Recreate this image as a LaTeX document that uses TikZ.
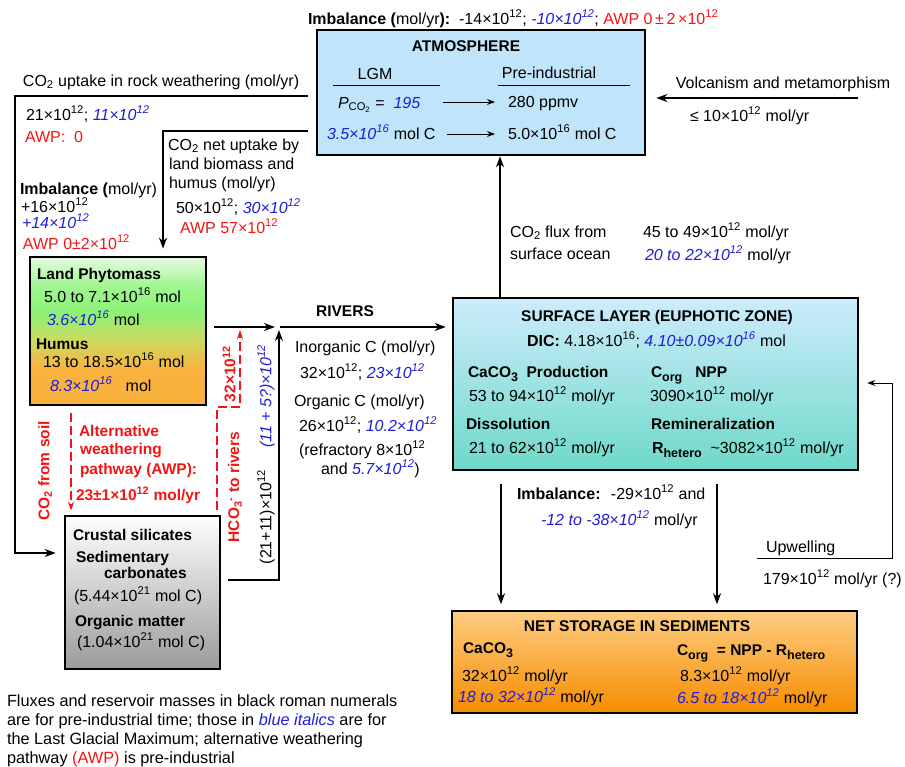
\documentclass[tikz,border=0pt]{standalone}
\usepackage{fontspec}
\setmainfont{Liberation Sans}
\usetikzlibrary{arrows.meta}
\definecolor{myblue}{RGB}{30,30,215}
\definecolor{myred}{RGB}{245,20,20}
\definecolor{atmblue}{RGB}{192,228,250}
\definecolor{surftop}{RGB}{205,236,252}
\definecolor{surfmid}{RGB}{160,226,232}
\definecolor{surfbot}{RGB}{110,217,200}
\definecolor{sedtop}{RGB}{253,205,130}
\definecolor{sedmid}{RGB}{250,160,40}
\definecolor{sedbot}{RGB}{246,140,0}
\definecolor{crustgray}{RGB}{155,155,155}
\definecolor{lorange}{RGB}{250,178,62}
\definecolor{lyg}{RGB}{205,218,95}
\definecolor{lgreen}{RGB}{140,242,118}
\definecolor{lgreen2}{RGB}{160,246,145}
\definecolor{lwhite}{RGB}{230,250,225}
\pgfdeclareverticalshading{landsh}{100bp}{color(0bp)=(lorange); color(25bp)=(lorange); color(37bp)=(lorange); color(47bp)=(lyg); color(56bp)=(lgreen); color(65bp)=(lgreen2); color(75bp)=(lwhite); color(100bp)=(lwhite)}
\newcommand\bodyfont{\fontsize{16}{19}\selectfont}
\newcommand\hdfont{\fontsize{15.5}{18}\selectfont\bfseries}
\newcommand\footfont{\fontsize{16.3}{19}\selectfont}
\newcommand\blu[1]{{\color{myblue}\itshape #1}}
\newcommand\rd[1]{{\color{myred}#1}}
\newcommand\tenx[1]{×10\textsuperscript{#1}}
\newcommand\subx[1]{\raisebox{-0.3em}{\fontsize{12.5}{12}\selectfont #1}}
\tikzset{
  lbl/.style={anchor=base west, inner sep=0pt, outer sep=0pt},
  ctr/.style={anchor=base, inner sep=0pt, outer sep=0pt},
  bx/.style={draw, line width=2.6pt, inner sep=0pt},
  flow/.style={line width=2pt, -{Stealth[length=11pt,width=8pt]}},
  thinflow/.style={line width=1pt, -{Stealth[length=8pt,width=6pt]}},
  rflow/.style={draw=myred, line width=2pt, dash pattern=on 9pt off 4pt, -{Stealth[length=9pt,width=6pt]}},
  rot/.style={rotate=90, inner sep=0pt}
}
\begin{document}
\begin{tikzpicture}[x=1pt,y=-1pt, every node/.style={font=\bodyfont}]
\useasboundingbox (0,0) rectangle (905,766);

% ---------- boxes ----------
\node[bx, fill=atmblue, minimum width=328, minimum height=125] (atm) at (481,92.5) {};
\node[bx, shade, shading=landsh, minimum width=176, minimum height=148] (land) at (118,331) {};
\node[bx, top color=surftop, middle color=surfmid, bottom color=surfbot, minimum width=405, minimum height=172] (surf) at (655.5,384) {};
\node[draw, line width=1.5pt, top color=sedtop, middle color=sedmid, bottom color=sedbot, minimum width=405, minimum height=102, inner sep=0pt] (sed) at (654.5,662) {};
\node[bx, top color=white, bottom color=crustgray, minimum width=155, minimum height=153] (crust) at (142.5,592.5) {};

% ---------- top imbalance ----------
\node[lbl] (imbtop) at (308,24) {\textbf{Imbalance (}mol/yr\textbf{):}~~-14\tenx{12};~\blu{-10\tenx{12}};~\rd{AWP 0\,±\,2\,\tenx{12}}};

% ---------- atmosphere ----------
\node[ctr, font=\hdfont] (atmt) at (466,51) {ATMOSPHERE};
\node[ctr] (lgm) at (375,79) {LGM};
\node[ctr] (prei) at (549,78) {Pre-industrial};
\draw[line width=1pt] (333,85) -- (440,85);
\draw[line width=1pt] (498,85) -- (630,85);
\node[lbl] (pco) at (338,108) {\textit{P}\textsubscript{CO\textsubscript{2}} = ~\blu{195}};
\node[lbl] (ppm) at (508,107) {280 ppmv};
\node[lbl] (lgmc) at (327,139) {\blu{3.5\tenx{16}} mol C};
\node[lbl] (pic) at (508,139) {5.0\tenx{16} mol C};
\coordinate (a1s) at (443,102); \coordinate (a1e) at (495,102);
\coordinate (a2s) at (447,134); \coordinate (a2e) at (495,134);
\draw[thinflow] (a1s) -- (a1e);
\draw[thinflow] (a2s) -- (a2e);

% ---------- volcanism ----------
\node[ctr] (volt) at (783,88) {Volcanism and metamorphism};
\node[lbl] (volv) at (690,121) {≤ 10\tenx{12} mol/yr};
\coordinate (volc) at (858,98);
\draw[flow, shorten >=10pt] (volc) -- (atm.east |- volc);

% ---------- rock weathering ----------
\node[lbl] (rwt) at (23,86) {CO\textsubscript{2} uptake in rock weathering (mol/yr)};
\node[lbl] (rwv) at (26,120) {21\tenx{12}; \blu{11\tenx{12}}};
\node[lbl] (rwa) at (25,142) {\rd{AWP:~ 0}};
\coordinate (rw1) at (308,96);
\coordinate (rw2) at (15,96);
\coordinate (rw3) at (15,553);
\draw[flow, shorten >=8pt] (rw1) -- (rw2) -- (rw3) -- (crust.west |- rw3);

% ---------- land uptake ----------
\node[lbl] (lut1) at (168,150) {CO\textsubscript{2} net uptake by};
\node[lbl] (lut2) at (169,169) {land biomass and};
\node[lbl] (lut3) at (169,188) {humus (mol/yr)};
\node[lbl] (luv) at (176,213) {50\tenx{12}; \blu{30\tenx{12}}};
\node[lbl] (lua) at (180,233) {\rd{AWP 57\tenx{12}}};
\coordinate (lu1) at (308,131);
\coordinate (lu2) at (163,131);
\draw[flow, shorten >=7pt] (lu1) -- (lu2) -- (land.north -| lu2);

% ---------- left imbalance ----------
\node[lbl] (imbl) at (20,194) {\textbf{Imbalance (}mol/yr)};
\node[lbl] (imb1) at (21,212) {+16\tenx{12}};
\node[lbl] (imb2) at (22,228) {\blu{+14\tenx{12}}};
\node[lbl] (imb3) at (23,249) {\rd{AWP 0±2\tenx{12}}};

% ---------- land box text ----------
\node[lbl, font=\hdfont] (lph) at (37,279) {Land Phytomass};
\node[lbl] (lp1) at (44,302) {5.0 to 7.1\tenx{16} mol};
\node[lbl] (lp2) at (47,325) {\blu{3.6\tenx{16}} mol};
\node[lbl, font=\hdfont] (hum) at (36,349) {Humus};
\node[lbl] (hu1) at (43,367) {13 to 18.5\tenx{16} mol};
\node[lbl] (hu2) at (50,391) {\blu{8.3\tenx{16}}~~ mol};

% ---------- rivers ----------
\node[ctr, font=\hdfont] (rivt) at (345,316) {RIVERS};
\node[lbl] (riv1) at (295,352) {Inorganic C (mol/yr)};
\node[lbl] (riv2) at (300,378) {32\tenx{12}; \blu{23\tenx{12}}};
\node[lbl] (riv3) at (294,406) {Organic C (mol/yr)};
\node[lbl] (riv4) at (299,431) {26\tenx{12}; \blu{10.2\tenx{12}}};
\node[lbl] (riv5) at (299,455) {(refractory 8\tenx{12}};
\node[lbl] (riv6) at (321,474) {and \blu{5.7\tenx{12}})};
\coordinate (rvA) at (275,327);
\draw[flow, shorten <=7pt] (land.east |- rvA) -- (rvA);
\coordinate (cr1) at (228,580);
\coordinate (cr2) at (279,580);
\coordinate (cr3) at (279,330);
\draw[flow] (cr1) -- (cr2) -- (cr3);
\coordinate (rvB) at (280,327);
\draw[flow, shorten >=6pt] (rvB) -- (surf.west |- rvB);

% ---------- rotated labels ----------
\node[rot, font=\hdfont, text=myred] (soil) at (45,471) {CO\textsubscript{2} from soil};
\node[rot, font=\hdfont, text=myred] (hco) at (235,487) {HCO\textsubscript{3}\textsuperscript{-} to rivers};
\node[rot, font=\hdfont, text=myred] (r32) at (229,374) {32\tenx{12}};
\node[rot] (b11) at (266,396) {\blu{(11 + 5?)\tenx{12}}};
\node[rot] (b21) at (266,517) {(21+11)\tenx{12}};

% ---------- AWP ----------
\node[lbl, font=\hdfont, text=myred] (awp1) at (79,436) {Alternative};
\node[lbl, font=\hdfont, text=myred] (awp2) at (80,454) {weathering};
\node[lbl, font=\hdfont, text=myred] (awp3) at (80,474) {pathway (AWP):};
\node[lbl, font=\hdfont, text=myred] (awp4) at (76,500) {23±1\tenx{12} mol/yr};
\coordinate (sx) at (71,0);
\draw[rflow, shorten <=7pt, shorten >=4pt] (land.south -| sx) -- (crust.north -| sx);
\coordinate (hc1) at (217,510);
\coordinate (hc2) at (217,407);
\coordinate (hc3) at (240,407);
\coordinate (hc4) at (240,330);
\draw[rflow] (hc1) -- (hc2) -- (hc3) -- (hc4);

% ---------- surface layer ----------
\node[ctr, font=\hdfont] (surft) at (657,321) {SURFACE LAYER (EUPHOTIC ZONE)};
\node[lbl] (dic) at (527,346) {\textbf{DIC:} 4.18\tenx{16}; \blu{4.10±0.09\tenx{16}} mol};
\node[lbl, font=\hdfont] (cac) at (468,377) {CaCO\subx{3}~ Production};
\node[lbl] (cac1) at (469,401) {53 to 94\tenx{12} mol/yr};
\node[lbl, font=\hdfont] (dis) at (466,429) {Dissolution};
\node[lbl] (dis1) at (469,453) {21 to 62\tenx{12} mol/yr};
\node[lbl, font=\hdfont] (corg) at (651,377) {C\subx{org}~~ NPP};
\node[lbl] (npp) at (650,401) {3090\tenx{12} mol/yr};
\node[lbl, font=\hdfont] (rem) at (651,429) {Remineralization};
\node[lbl] (rh) at (652,453) {\textbf{R\subx{hetero}}~ \textasciitilde3082\tenx{12} mol/yr};

% ---------- CO2 flux ----------
\coordinate (fx) at (500,0);
\draw[flow] (surf.north -| fx) -- (atm.south -| fx);
\node[lbl] (fl1) at (510,237) {CO\textsubscript{2} flux from};
\node[lbl] (fl2) at (510,259) {surface ocean};
\node[lbl] (fl3) at (643,237) {45 to 49\tenx{12} mol/yr};
\node[lbl] (fl4) at (645,260) {\blu{20 to 22\tenx{12}} mol/yr};

% ---------- down arrows ----------
\coordinate (d1) at (501,0);
\coordinate (d2) at (717,0);
\draw[flow, shorten <=13pt, shorten >=6pt] (surf.south -| d1) -- (sed.north -| d1);
\draw[flow, shorten <=13pt, shorten >=6pt] (surf.south -| d2) -- (sed.north -| d2);
\node[lbl] (imbd1) at (517,499) {\textbf{Imbalance:}~ -29\tenx{12} and};
\node[lbl] (imbd2) at (541,525) {\blu{-12 to -38\tenx{12}} mol/yr};

% ---------- upwelling ----------
\coordinate (up1) at (757,558);
\coordinate (up2) at (892,558);
\coordinate (up3) at (892,383);
\draw[thinflow, shorten >=8pt] (up1) -- (up2) -- (up3) -- (surf.east |- up3);
\node[lbl] (upw) at (766,552) {Upwelling};
\node[lbl] (upv) at (763,584) {179\tenx{12} mol/yr (?)};

% ---------- sediments ----------
\node[ctr, font=\hdfont] (sedt) at (637,631) {NET STORAGE IN SEDIMENTS};
\node[lbl, font=\hdfont] (sc) at (463,653) {CaCO\subx{3}};
\node[lbl] (sc1) at (462,681) {32\tenx{12} mol/yr};
\node[lbl] (sc2) at (458,702) {\blu{18 to 32\tenx{12}} mol/yr};
\node[lbl, font=\hdfont] (so) at (677,655) {C\subx{org}~ = NPP - R\subx{hetero}};
\node[lbl] (so1) at (680,681) {8.3\tenx{12} mol/yr};
\node[lbl] (so2) at (677,703) {\blu{6.5 to 18\tenx{12}} mol/yr};

% ---------- crust ----------
\node[lbl, font=\hdfont] (cs) at (73,540) {Crustal silicates};
\node[lbl, font=\hdfont] (sd) at (76,562) {Sedimentary};
\node[lbl, font=\hdfont] (cb) at (104,578) {carbonates};
\node[lbl] (c1) at (74,601) {(5.44\tenx{21} mol C)};
\node[lbl, font=\hdfont] (om) at (75,626) {Organic matter};
\node[lbl] (c2) at (77,647) {(1.04\tenx{21} mol C)};

% ---------- footnote ----------
\node[lbl, font=\footfont] (fn1) at (7,706) {Fluxes and reservoir masses in black roman numerals};
\node[lbl, font=\footfont] (fn2) at (7,725) {are for pre-industrial time; those in \blu{blue italics} are for};
\node[lbl, font=\footfont] (fn3) at (7,744) {the Last Glacial Maximum; alternative weathering};
\node[lbl, font=\footfont] (fn4) at (7,763) {pathway \rd{(AWP)} is pre-industrial};
\end{tikzpicture}
\end{document}
